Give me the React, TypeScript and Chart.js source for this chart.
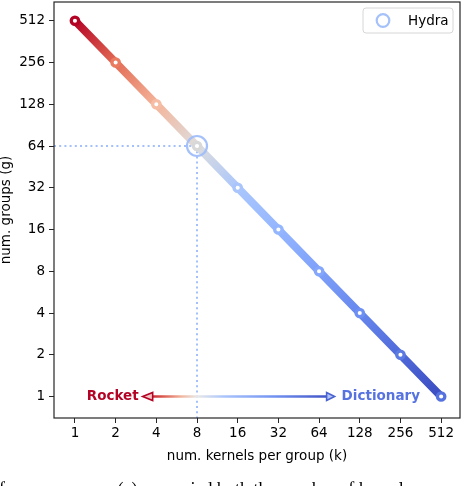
import React, { useEffect, useRef } from "react";
import { Chart, registerables } from "chart.js";

Chart.register(...registerables);

// ---- data ----
const kernels = [1, 2, 4, 8, 16, 32, 64, 128, 256, 512];
const groups = [512, 256, 128, 64, 32, 16, 8, 4, 2, 1];
const xTicks = [1, 2, 4, 8, 16, 32, 64, 128, 256, 512];
const yTicks = [1, 2, 4, 8, 16, 32, 64, 128, 256, 512];
const hydraKernels = [8];
const hydraGroups = [64];
const arrowOriginK = 8;
const rocketTipK = 3.17;
const dictionaryTipK = 83.4;
const arrowG = 1;

// ---- style / layout ----
const FONT = "'DejaVu Sans', sans-serif";
const FS = 13.5;
const AREA = { left: 54, top: 2, right: 460, bottom: 418 };
const X_AXIS_BOTTOM = 465;
const pointColors = [
  "#b40426", "#e36c55", "#f4b59b", "#dddddd", "#aac6fc",
  "#94b6ff", "#7ea0f9", "#6687ed", "#4f69d9", "#3b4cc0",
];
const ringColors = [
  "#b40426", "#ea7b60", "#f6bda4", "#d8d8d8", "#a9c5fc",
  "#94b6ff", "#84a7fb", "#6e90f2", "#5b7be3", "#5572df",
];
const hydraColor = "rgba(160,190,250,0.95)";
const dottedColor = "#a3c0fb";

export default function App() {
  const ref = useRef<HTMLCanvasElement>(null);

  useEffect(() => {
    const canvas = ref.current!;

    const fixLayout = {
      id: "fixLayout",
      afterLayout(chart: any) {
        const ca = chart.chartArea;
        ca.left = AREA.left;
        ca.top = AREA.top;
        ca.right = AREA.right;
        ca.bottom = AREA.bottom;
        ca.width = AREA.right - AREA.left;
        ca.height = AREA.bottom - AREA.top;
        const x = chart.scales.x, y = chart.scales.y;
        x.left = AREA.left; x.right = AREA.right; x.width = ca.width;
        x.top = AREA.bottom; x.bottom = X_AXIS_BOTTOM; x.height = X_AXIS_BOTTOM - AREA.bottom;
        x.configure();
        y.left = 0; y.right = AREA.left; y.width = AREA.left;
        y.top = AREA.top; y.bottom = AREA.bottom; y.height = ca.height;
        y.configure();
      },
    };

    const decor = {
      id: "decor",
      beforeDatasetsDraw(chart: any) {
        const { ctx, chartArea } = chart;
        const xs = chart.scales.x, ys = chart.scales.y;
        const hx = xs.getPixelForValue(hydraKernels[0]);
        const hy = ys.getPixelForValue(hydraGroups[0]);
        ctx.save();
        ctx.strokeStyle = dottedColor;
        ctx.lineWidth = 2;
        ctx.setLineDash([2, 3.2]);
        ctx.beginPath();
        ctx.moveTo(chartArea.left, hy);
        ctx.lineTo(hx, hy);
        ctx.moveTo(hx, hy);
        ctx.lineTo(hx, chartArea.bottom);
        ctx.stroke();
        ctx.restore();
      },
      afterDatasetsDraw(chart: any) {
        const { ctx } = chart;
        const xs = chart.scales.x, ys = chart.scales.y;
        const lx = xs.getPixelForValue(rocketTipK);
        const rx = xs.getPixelForValue(dictionaryTipK);
        const ox = xs.getPixelForValue(arrowOriginK);
        const ay = ys.getPixelForValue(arrowG);
        const w = rx - lx;
        const o = (ox - lx) / w;
        const g = ctx.createLinearGradient(lx, ay, rx, ay);
        g.addColorStop(0, "#b40426");
        g.addColorStop(o * 0.35, "#d9534a");
        g.addColorStop(o * 0.7, "#f2b39b");
        g.addColorStop(o, "#e8e8e8");
        g.addColorStop(o + (1 - o) * 0.2, "#a9c4fb");
        g.addColorStop(o + (1 - o) * 0.55, "#7393f2");
        g.addColorStop(1, "#3b4cc0");
        ctx.save();
        ctx.strokeStyle = g;
        ctx.lineWidth = 2.6;
        ctx.beginPath();
        ctx.moveTo(lx + 9, ay);
        ctx.lineTo(rx - 6, ay);
        ctx.stroke();
        // left head
        ctx.lineWidth = 1.6;
        ctx.lineJoin = "miter";
        ctx.beginPath();
        ctx.moveTo(lx, ay);
        ctx.lineTo(lx + 10, ay - 4);
        ctx.lineTo(lx + 10, ay + 4);
        ctx.closePath();
        ctx.fillStyle = "#f2c4c4";
        ctx.fill();
        ctx.strokeStyle = "#b40426";
        ctx.stroke();
        // right head
        ctx.beginPath();
        ctx.moveTo(rx, ay);
        ctx.lineTo(rx - 8, ay - 4);
        ctx.lineTo(rx - 8, ay + 4);
        ctx.closePath();
        ctx.fillStyle = "#b4c6f6";
        ctx.fill();
        ctx.strokeStyle = "#4a63d0";
        ctx.stroke();
        // labels
        ctx.font = `bold ${FS}px ${FONT}`;
        ctx.textBaseline = "middle";
        ctx.textAlign = "right";
        ctx.fillStyle = "#b40426";
        ctx.fillText("Rocket", lx - 4, ay);
        ctx.textAlign = "left";
        ctx.fillStyle = "#5673e0";
        ctx.fillText("Dictionary", rx + 7, ay);
        ctx.restore();
      },
      afterDraw(chart: any) {
        const { ctx, chartArea } = chart;
        ctx.save();
        // frame
        ctx.strokeStyle = "#262626";
        ctx.lineWidth = 1.2;
        ctx.strokeRect(chartArea.left, chartArea.top, chartArea.right - chartArea.left, chartArea.bottom - chartArea.top);
        // legend
        const bx = chartArea.right - 97, by = chartArea.top + 6, bw = 90, bh = 25;
        ctx.beginPath();
        const r = 3;
        ctx.moveTo(bx + r, by);
        ctx.arcTo(bx + bw, by, bx + bw, by + bh, r);
        ctx.arcTo(bx + bw, by + bh, bx, by + bh, r);
        ctx.arcTo(bx, by + bh, bx, by, r);
        ctx.arcTo(bx, by, bx + bw, by, r);
        ctx.closePath();
        ctx.fillStyle = "rgba(255,255,255,0.85)";
        ctx.fill();
        ctx.strokeStyle = "#d6d6d6";
        ctx.lineWidth = 1;
        ctx.stroke();
        ctx.beginPath();
        ctx.arc(bx + 20, by + 12.5, 6.3, 0, Math.PI * 2);
        ctx.strokeStyle = hydraColor;
        ctx.lineWidth = 2.2;
        ctx.stroke();
        ctx.fillStyle = "#000";
        ctx.font = `${FS}px ${FONT}`;
        ctx.textBaseline = "middle";
        ctx.textAlign = "left";
        ctx.fillText("Hydra", bx + 45, by + 13);
        ctx.restore();
      },
    };

    const lineGradient = (c: any) => {
      const chart = c.chart;
      const xs = chart.scales?.x, ys = chart.scales?.y;
      if (!xs || !ys || !chart.chartArea) return pointColors[0];
      const n = kernels.length;
      const x0 = xs.getPixelForValue(kernels[0]), y0 = ys.getPixelForValue(groups[0]);
      const x1 = xs.getPixelForValue(kernels[n - 1]), y1 = ys.getPixelForValue(groups[n - 1]);
      if (!isFinite(x0) || !isFinite(x1) || !isFinite(y0) || !isFinite(y1)) return pointColors[0];
      const g = chart.ctx.createLinearGradient(x0, y0, x1, y1);
      const len2 = (x1 - x0) ** 2 + (y1 - y0) ** 2 || 1;
      kernels.forEach((k, i) => {
        const px = xs.getPixelForValue(k), py = ys.getPixelForValue(groups[i]);
        let t = ((px - x0) * (x1 - x0) + (py - y0) * (y1 - y0)) / len2;
        t = Math.min(1, Math.max(0, t));
        g.addColorStop(t, pointColors[i]);
      });
      return g;
    };

    const axisCommon = (ticks: number[]) => ({
      type: "logarithmic" as const,
      afterBuildTicks: (scale: any) => {
        scale.ticks = ticks.map((v) => ({ value: v }));
      },
      grid: {
        display: true,
        drawOnChartArea: false,
        drawTicks: true,
        tickLength: 5,
        color: "#262626",
        lineWidth: 1,
      },
      border: { display: false },
    });

    const chart = new Chart(canvas, {
      type: "line",
      data: {
        datasets: [
          {
            label: "Hydra",
            data: hydraKernels.map((k, i) => ({ x: k, y: hydraGroups[i] })),
            showLine: false,
            pointRadius: 10,
            pointHoverRadius: 10,
            pointBorderWidth: 2.2,
            pointBorderColor: hydraColor,
            pointBackgroundColor: "rgba(0,0,0,0)",
            order: 0,
          },
          {
            label: "sweep",
            data: kernels.map((k, i) => ({ x: k, y: groups[i] })),
            borderColor: lineGradient,
            borderWidth: 8,
            pointRadius: 3.7,
            pointHoverRadius: 3.7,
            pointBorderWidth: 3.3,
            pointBorderColor: ringColors,
            pointBackgroundColor: "#ffffff",
            tension: 0,
            order: 1,
          },
        ],
      },
      options: {
        responsive: false,
        animation: false,
        events: [],
        layout: { padding: { left: 0, top: 2, right: 12, bottom: 21 } },
        plugins: {
          legend: { display: false },
          tooltip: { enabled: false },
        },
        scales: {
          x: {
            ...axisCommon(xTicks),
            position: "bottom",
            min: 0.725,
            max: 706,
            afterFit: (s: any) => {
              s.height = 47;
            },
            ticks: {
              autoSkip: false,
              maxRotation: 0,
              padding: 2,
              color: "#000",
              font: { family: FONT, size: FS },
              callback: (v: any) => String(v),
            },
            title: {
              display: true,
              text: "num. kernels per group (k)",
              color: "#000",
              font: { family: FONT, size: FS },
              padding: { top: 0, bottom: 0 },
            },
          },
          y: {
            ...axisCommon(yTicks),
            position: "left",
            min: 0.742,
            max: 699,
            afterFit: (s: any) => {
              s.width = 54;
            },
            ticks: {
              autoSkip: false,
              padding: 4,
              color: "#000",
              font: { family: FONT, size: FS },
              callback: (v: any) => String(v),
            },
            title: {
              display: true,
              text: "num. groups (g)",
              color: "#000",
              font: { family: FONT, size: FS },
              padding: { top: -1.5, bottom: 0 },
            },
          },
        },
      } as any,
      plugins: [fixLayout, decor],
    });

    return () => chart.destroy();
  }, []);

  return (
    <div
      style={{
        position: "fixed",
        left: 0,
        top: 0,
        width: 472,
        height: 486,
        background: "#fff",
        overflow: "hidden",
      }}
    >
      <canvas ref={ref} width={472} height={486} style={{ display: "block", width: 472, height: 486 }} />
      <div
        style={{
          position: "absolute",
          left: -1,
          top: 476,
          width: 480,
          height: 10,
          overflow: "hidden",
        }}
      >
        <div
          style={{
            paddingTop: 4,
            fontFamily: "'Liberation Serif', serif",
            fontSize: 18,
            lineHeight: "18px",
            whiteSpace: "nowrap",
            color: "#000",
          }}
        >
          for sweeps over (a) we varied both the number of kernels
        </div>
      </div>
    </div>
  );
}
